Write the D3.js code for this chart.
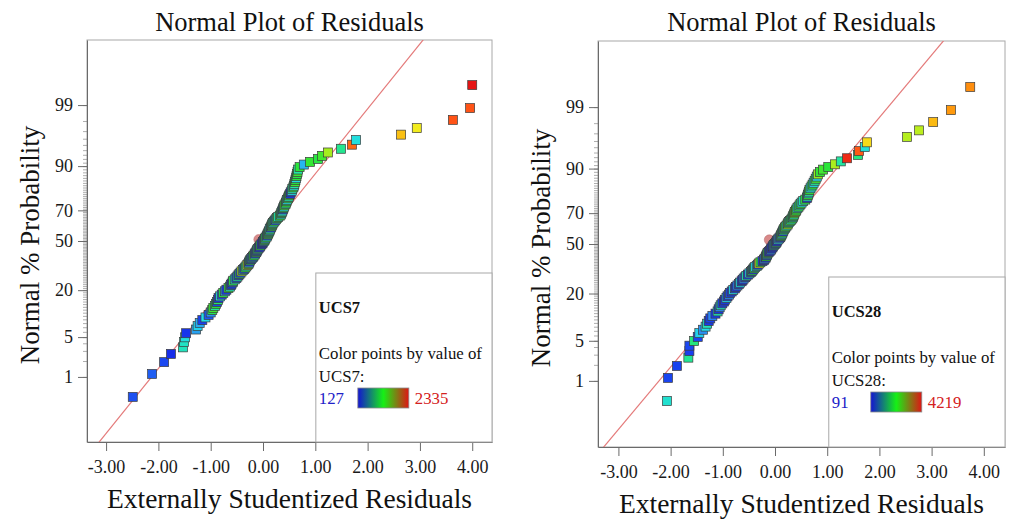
<!DOCTYPE html>
<html>
<head>
<meta charset="utf-8">
<script src="https://cdn.jsdelivr.net/npm/d3@7"></script>
<style>
body { margin: 0; background: #fff; }
svg { display: block; font-family: "Liberation Serif", "Times New Roman", serif; }
</style>
</head>
<body>
<div id="chart"></div>
<script>
// sorted externally studentized residuals
const res7 = [
  -2.49, -2.12, -1.89, -1.76, -1.53, -1.51, -1.49, -1.47, -1.28, -1.25,
  -1.21, -1.16, -1.10, -1.04, -1.00, -0.97, -0.95, -0.92, -0.90, -0.88,
  -0.86, -0.85, -0.82, -0.79, -0.76, -0.73, -0.70, -0.66, -0.63, -0.61,
  -0.60, -0.58, -0.57, -0.54, -0.51, -0.49, -0.47, -0.45, -0.43, -0.41,
  -0.38, -0.36, -0.34, -0.32, -0.30, -0.28, -0.27, -0.26, -0.25, -0.23,
  -0.21, -0.19, -0.18, -0.16, -0.15, -0.13, -0.12, -0.11, -0.10, -0.08,
  -0.06, -0.05, -0.03, -0.01, 0.00, 0.02, 0.03, 0.04, 0.05, 0.07,
  0.08, 0.09, 0.10, 0.11, 0.12, 0.13, 0.13, 0.15, 0.16, 0.17,
  0.18, 0.19, 0.21, 0.23, 0.25, 0.27, 0.29, 0.32, 0.34, 0.35,
  0.36, 0.37, 0.38, 0.39, 0.40, 0.41, 0.43, 0.44, 0.45, 0.46,
  0.48, 0.49, 0.50, 0.52, 0.53, 0.55, 0.56, 0.58, 0.59, 0.60,
  0.61, 0.62, 0.63, 0.64, 0.65, 0.66, 0.67, 0.70, 0.78, 0.90,
  1.05, 1.13, 1.24, 1.49, 1.70, 1.78, 2.64, 2.94, 3.63, 3.96, 4.00
];
const ucs7 = [
  380, 420, 360, 250, 880, 860, 780, 280, 600, 720,
  620, 330, 760, 400, 560, 1150, 1250, 950, 1200, 350,
  1100, 300, 800, 380, 1180, 600, 320, 1220, 900, 360,
  300, 560, 1150, 780, 350, 950, 330, 1100, 380, 1500,
  760, 350, 1200, 900, 1600, 1250, 600, 330, 1150, 300,
  780, 400, 1180, 950, 320, 1220, 380, 620, 1100, 300,
  350, 1150, 280, 260, 300, 900, 1200, 600, 1150, 780,
  380, 1250, 920, 1180, 640, 1100, 800, 350, 1250, 950,
  1200, 760, 1150, 400, 820, 1220, 900, 1200, 780, 1150,
  950, 750, 360, 1180, 800, 1240, 920, 1200, 1100, 760,
  1180, 950, 1220, 280, 320, 780, 900, 1200, 820, 940,
  1250, 1180, 760, 1200, 1150, 1250, 950, 1200, 650, 1230,
  1180, 1260, 1450, 1000, 2100, 780, 1850, 1700, 2150, 2150, 2335
];
const res28 = [
  -2.07, -2.05, -1.88, -1.66, -1.64, -1.64, -1.55, -1.48, -1.45, -1.38,
  -1.33, -1.30, -1.27, -1.24, -1.20, -1.14, -1.10, -1.08, -1.06, -1.04,
  -1.01, -0.98, -0.96, -0.93, -0.91, -0.88, -0.86, -0.83, -0.80, -0.77,
  -0.75, -0.72, -0.69, -0.67, -0.64, -0.62, -0.60, -0.57, -0.55, -0.52,
  -0.49, -0.46, -0.44, -0.42, -0.40, -0.38, -0.35, -0.33, -0.31, -0.28,
  -0.24, -0.21, -0.20, -0.18, -0.17, -0.16, -0.15, -0.14, -0.12, -0.10,
  -0.08, -0.07, -0.05, -0.04, -0.02, 0.00, 0.02, 0.03, 0.04, 0.06,
  0.08, 0.10, 0.11, 0.12, 0.13, 0.14, 0.15, 0.16, 0.17, 0.19,
  0.20, 0.22, 0.24, 0.25, 0.27, 0.29, 0.31, 0.33, 0.34, 0.35,
  0.36, 0.37, 0.38, 0.40, 0.41, 0.43, 0.45, 0.47, 0.49, 0.51,
  0.54, 0.58, 0.61, 0.62, 0.63, 0.64, 0.65, 0.66, 0.68, 0.70,
  0.72, 0.74, 0.76, 0.78, 0.80, 0.82, 0.86, 0.92, 1.02, 1.15,
  1.26, 1.38, 1.59, 1.61, 1.72, 1.76, 2.53, 2.76, 3.03, 3.37, 3.74
];
const ucs28 = [
  1400, 500, 480, 1700, 450, 520, 1800, 500, 1200, 900,
  1250, 1500, 420, 480, 850, 450, 1550, 400, 900, 1500,
  500, 450, 420, 1200, 480, 880, 500, 430, 1250, 470,
  420, 850, 480, 1300, 450, 400, 900, 480, 1550, 430,
  1250, 470, 2000, 450, 2100, 1200, 1500, 480, 3000, 2050,
  500, 450, 880, 430, 2100, 470, 1250, 2150, 420, 480,
  900, 450, 400, 430, 1550, 470, 2000, 450, 420, 1300,
  850, 480, 2100, 1600, 1250, 2150, 500, 1550, 2050, 1200,
  2200, 1600, 2550, 2100, 1250, 2150, 1650, 2050, 1300, 2100,
  1600, 2200, 2500, 2100, 2150, 1250, 2000, 1600, 2100, 1300,
  1550, 2050, 450, 1600, 2100, 1250, 1650, 2150, 1300, 1600,
  2100, 1250, 1700, 2200, 1250, 2500, 2150, 2200, 2100, 2600,
  1650, 4100, 1800, 3850, 1350, 3150, 2650, 2700, 3350, 3550, 3600
];
const range7 = [127, 2335];
const range28 = [91, 4219];
// fitted normal reference lines [mean, sd]
const fit7 = [-0.036, 0.90];
const fit28 = [-0.028, 0.943];
// faint centre marker [residual, probability %]
const mark7 = [-0.08, 51];
const mark28 = [-0.11, 52.8];

const xTicks = [-3, -2, -1, 0, 1, 2, 3, 4];
const probMajor = [1, 5, 20, 50, 70, 90, 99];
const probMinor = d3.range(1, 100);

const W = 1018, H = 519;

// inverse normal cdf (Acklam)
function probit(p) {
  const a = [-3.969683028665376e+01, 2.209460984245205e+02, -2.759285104469687e+02, 1.383577518672690e+02, -3.066479806614716e+01, 2.506628277459239e+00];
  const b = [-5.447609879822406e+01, 1.615858368580409e+02, -1.556989798598866e+02, 6.680131188771972e+01, -1.328068155288572e+01];
  const c = [-7.784894002430293e-03, -3.223964580411365e-01, -2.400758277161838e+00, -2.549732539343734e+00, 4.374664141464968e+00, 2.938163982698783e+00];
  const d = [7.784695709041462e-03, 3.224671290700398e-01, 2.445134137142996e+00, 3.754408661907416e+00];
  const pl = 0.02425;
  let q, r;
  if (p < pl) {
    q = Math.sqrt(-2 * Math.log(p));
    return (((((c[0] * q + c[1]) * q + c[2]) * q + c[3]) * q + c[4]) * q + c[5]) / ((((d[0] * q + d[1]) * q + d[2]) * q + d[3]) * q + 1);
  }
  if (p > 1 - pl) {
    q = Math.sqrt(-2 * Math.log(1 - p));
    return -(((((c[0] * q + c[1]) * q + c[2]) * q + c[3]) * q + c[4]) * q + c[5]) / ((((d[0] * q + d[1]) * q + d[2]) * q + d[3]) * q + 1);
  }
  q = p - 0.5; r = q * q;
  return (((((a[0] * r + a[1]) * r + a[2]) * r + a[3]) * r + a[4]) * r + a[5]) * q / (((((b[0] * r + b[1]) * r + b[2]) * r + b[3]) * r + b[4]) * r + 1);
}

const pointColor = d3.scaleLinear()
  .domain([0, 0.1, 0.19, 0.28, 0.37, 0.49, 0.6, 0.71, 0.83, 0.92, 1])
  .range(["#1010e0", "#1a44f0", "#2a8cf5", "#22dcea", "#22e6a8", "#2ae636", "#a6ee1e", "#f2ee1e", "#ffa00c", "#ff5016", "#e61414"])
  .clamp(true);

const svg = d3.select("#chart")
  .append("svg")
  .attr("width", W)
  .attr("height", H);

svg.append("rect").attr("width", W).attr("height", H).attr("fill", "#fff");

const defs = svg.append("defs");
const grad = defs.append("linearGradient").attr("id", "ucsGrad");
grad.append("stop").attr("offset", "0%").attr("stop-color", "#1414d2");
grad.append("stop").attr("offset", "50%").attr("stop-color", "#16f016");
grad.append("stop").attr("offset", "100%").attr("stop-color", "#e01414");

function drawPanel(cfg) {
  const g = svg.append("g");
  const x = d3.scaleLinear().domain(cfg.xDomain).range([cfg.left, cfg.right]);
  const y = d3.scaleLinear().domain([-cfg.zMax, cfg.zMax]).range([cfg.bottom, cfg.top]);
  const n = cfg.res.length;
  const pts = cfg.res.map((r, i) => ({ r: r, z: probit((i + 0.5) / n), v: cfg.ucs[i] }));

  defs.append("clipPath").attr("id", cfg.id + "clip")
    .append("rect")
    .attr("x", cfg.left).attr("y", cfg.top)
    .attr("width", cfg.right - cfg.left).attr("height", cfg.bottom - cfg.top);

  // frame
  g.append("rect")
    .attr("x", cfg.left).attr("y", cfg.top)
    .attr("width", cfg.right - cfg.left).attr("height", cfg.bottom - cfg.top)
    .attr("fill", "none").attr("stroke", "#a8a8a8").attr("stroke-width", 1);

  // reference line
  const line = d3.line()
    .x(d => x(d))
    .y(d => y((d - cfg.fit[0]) / cfg.fit[1]));
  g.append("path")
    .datum(cfg.xDomain)
    .attr("d", line)
    .attr("clip-path", `url(#${cfg.id}clip)`)
    .attr("fill", "none")
    .attr("stroke", "#e47a7a")
    .attr("stroke-width", 1.2);

  // faint marker behind the points
  g.append("circle")
    .attr("cx", x(cfg.mark[0]))
    .attr("cy", y(probit(cfg.mark[1] / 100)))
    .attr("r", 5)
    .attr("fill", "#d88a8a")
    .attr("stroke", "#b86a6a")
    .attr("stroke-width", 0.5);

  const cScale = d3.scaleLinear().domain(cfg.range).range([0, 1]);
  const s = 9;
  g.selectAll("rect.pt")
    .data(pts)
    .join("rect")
    .attr("class", "pt")
    .attr("x", d => x(d.r) - s / 2)
    .attr("y", d => y(d.z) - s / 2)
    .attr("width", s)
    .attr("height", s)
    .attr("fill", d => pointColor(cScale(d.v)))
    .attr("stroke", "#3c3c3c")
    .attr("stroke-width", 0.7);

  // axes
  const yMinor = d3.axisLeft(y)
    .tickValues(probMinor.map(p => probit(p / 100)))
    .tickSize(4)
    .tickFormat("");
  g.append("g")
    .attr("transform", `translate(${cfg.left},0)`)
    .call(yMinor)
    .call(a => a.select(".domain").remove())
    .call(a => a.selectAll("line").attr("stroke", "#777").attr("stroke-width", 0.6));

  const yAxis = d3.axisLeft(y)
    .tickValues(probMajor.map(p => probit(p / 100)))
    .tickFormat((d, i) => probMajor[i])
    .tickSize(9)
    .tickPadding(5)
    .tickSizeOuter(0);
  g.append("g")
    .attr("transform", `translate(${cfg.left},0)`)
    .call(yAxis)
    .call(a => a.select(".domain").attr("stroke", "#6a6a6a"))
    .call(a => a.selectAll("line").attr("stroke", "#6a6a6a"))
    .call(a => a.selectAll("text").attr("font-size", 18).attr("fill", "#1a1a1a").attr("font-family", "Liberation Serif"));

  const xAxis = d3.axisBottom(x)
    .tickValues(xTicks)
    .tickFormat(d => d.toFixed(2))
    .tickSize(9)
    .tickPadding(9)
    .tickSizeOuter(0);
  g.append("g")
    .attr("transform", `translate(0,${cfg.bottom})`)
    .call(xAxis)
    .call(a => a.select(".domain").attr("stroke", "#6a6a6a"))
    .call(a => a.selectAll("line").attr("stroke", "#6a6a6a"))
    .call(a => a.selectAll("text").attr("font-size", 18).attr("fill", "#1a1a1a").attr("font-family", "Liberation Serif"));

  // titles
  const cx = (cfg.left + cfg.right) / 2;
  g.append("text")
    .attr("x", cx).attr("y", 31)
    .attr("text-anchor", "middle")
    .attr("font-size", 26.5)
    .attr("fill", "#111")
    .text("Normal Plot of Residuals");
  g.append("text")
    .attr("x", cx).attr("y", cfg.bottom + 66)
    .attr("text-anchor", "middle")
    .attr("font-size", 27.5)
    .attr("fill", "#111")
    .text("Externally Studentized Residuals");
  g.append("text")
    .attr("transform", `translate(${cfg.left - 48},${(cfg.top + cfg.bottom) / 2 + 4}) rotate(-90)`)
    .attr("text-anchor", "middle")
    .attr("font-size", 27)
    .attr("fill", "#111")
    .text("Normal % Probability");

  // legend box
  const lx = x(cfg.legendAt), ly = cfg.legendTop;
  const lg = g.append("g");
  lg.append("rect")
    .attr("x", lx).attr("y", ly)
    .attr("width", cfg.right - lx).attr("height", cfg.bottom - ly)
    .attr("fill", "#fff").attr("stroke", "#a8a8a8").attr("stroke-width", 1);
  lg.append("text")
    .attr("x", lx + 3).attr("y", ly + 40)
    .attr("font-size", 16.5).attr("font-weight", "bold").attr("fill", "#111")
    .text(cfg.name);
  lg.append("text")
    .attr("x", lx + 3).attr("y", ly + 86)
    .attr("font-size", 16.8).attr("fill", "#111")
    .text("Color points by value of");
  lg.append("text")
    .attr("x", lx + 3).attr("y", ly + 109)
    .attr("font-size", 16.8).attr("fill", "#111")
    .text(cfg.name + ":");
  lg.append("text")
    .attr("x", lx + 3).attr("y", ly + 131)
    .attr("font-size", 16.8).attr("fill", "#2020c8")
    .text(cfg.range[0]);
  lg.append("rect")
    .attr("x", lx + 42).attr("y", ly + 115)
    .attr("width", 51).attr("height", 20)
    .attr("fill", "url(#ucsGrad)")
    .attr("stroke", "#8a8a8a").attr("stroke-width", 0.8);
  lg.append("text")
    .attr("x", lx + 99).attr("y", ly + 131)
    .attr("font-size", 16.8).attr("fill", "#d42020")
    .text(cfg.range[1]);
}

drawPanel({
  id: "p7", name: "UCS7",
  res: res7, ucs: ucs7, range: range7, fit: fit7, mark: mark7,
  left: 87, right: 492, top: 40, bottom: 442,
  xDomain: [-3.365, 4.378], zMax: 3.44,
  legendAt: 1.01, legendTop: 273
});

drawPanel({
  id: "p28", name: "UCS28",
  res: res28, ucs: ucs28, range: range28, fit: fit28, mark: mark28,
  left: 598, right: 1005, top: 41, bottom: 447,
  xDomain: [-3.391, 4.406], zMax: 3.45,
  legendAt: 1.03, legendTop: 277
});
</script>
</body>
</html>
